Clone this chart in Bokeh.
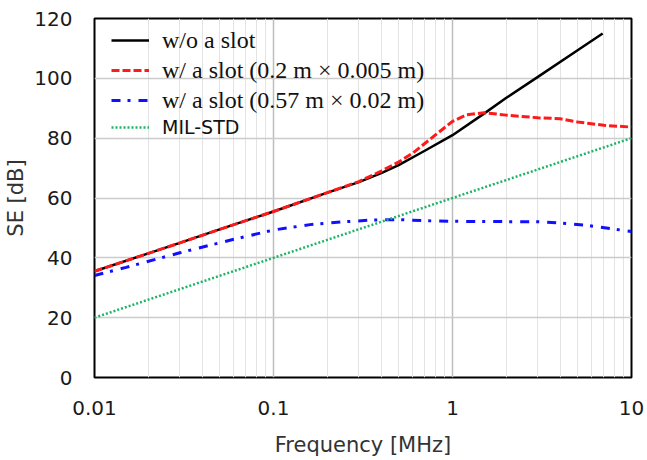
from bokeh.plotting import figure
from bokeh.models import (FixedTicker, CustomJSTickFormatter, Legend, LegendItem,
                          Range1d)
from bokeh.embed import file_html
from bokeh.resources import INLINE

# Shielding effectiveness vs frequency
freq_noslot = [0.01, 0.02, 0.03, 0.05, 0.1, 0.2, 0.3, 0.4, 0.5, 0.7, 1.0, 1.5, 2.0, 3.0, 5.0, 6.9]
se_noslot = [35.5, 41.5, 45.0, 49.5, 55.5, 61.8, 65.3, 68.3, 71.0, 75.8, 81.0, 88.2, 93.5, 100.5,
             109.4, 115.0]

freq_slot_small = [0.01, 0.02, 0.03, 0.05, 0.1, 0.2, 0.3, 0.4, 0.5, 0.6, 0.8, 1.0, 1.2, 1.5,
                   2.0, 3.0, 4.0, 5.0, 7.0, 10.0]
se_slot_small = [35.5, 41.5, 45.0, 49.5, 55.5, 61.8, 65.5, 69.0, 72.0, 75.0, 81.0, 85.6, 87.8, 88.5,
                 87.7, 86.8, 86.5, 85.4, 84.3, 83.7]

freq_slot_large = [0.01, 0.015, 0.03, 0.06, 0.1, 0.16, 0.24, 0.35, 0.5, 0.7, 1.0, 2.0, 3.0, 4.0,
                   5.6, 8.0, 10.0]
se_slot_large = [34.1, 36.8, 41.7, 46.2, 49.3, 51.1, 52.0, 52.6, 52.8, 52.4, 52.2, 52.1, 52.1, 51.6,
                 50.9, 49.6, 48.8]

freq_mil = [0.01, 10.0]
se_mil = [20.0, 80.0]

series_labels = ["w/o a slot", "w/ a slot (0.2 m \u00d7 0.005 m)",
                 "w/ a slot (0.57 m \u00d7 0.02 m)", "MIL-STD"]

x_ticks = [0.01, 0.1, 1, 10]
x_tick_labels = ["0.01", "0.1", "1", "10"]
x_minor = [m * d for d in (0.01, 0.1, 1) for m in range(2, 10)]
y_ticks = [0, 20, 40, 60, 80, 100, 120]

SANS = "DejaVu Sans"
SERIF = "Liberation Serif"

p = figure(width=647, height=460, x_axis_type="log",
           x_range=Range1d(0.01, 10), y_range=Range1d(0, 120),
           output_backend="svg", toolbar_location=None,
           min_border_left=94, min_border_right=16,
           min_border_top=18, min_border_bottom=83)
p.background_fill_color = "white"
p.border_fill_color = "white"
p.outline_line_color = "black"
p.outline_line_width = 2
p.outline_line_alpha = 1

# axes
p.xaxis.ticker = FixedTicker(ticks=x_ticks, minor_ticks=x_minor)
p.xaxis.formatter = CustomJSTickFormatter(
    args=dict(vals=x_ticks, labs=x_tick_labels),
    code="""
    for (let i = 0; i < vals.length; i++) {
        if (Math.abs(Math.log10(tick) - Math.log10(vals[i])) < 1e-6) return labs[i];
    }
    return "";
""")
p.yaxis.ticker = FixedTicker(ticks=y_ticks)

for ax in (p.xaxis[0], p.yaxis[0]):
    ax.axis_line_color = None
    ax.major_tick_line_color = None
    ax.minor_tick_line_color = None
    ax.major_tick_out = 0
    ax.minor_tick_out = 0
    ax.major_label_text_font = SANS
    ax.major_label_text_font_size = "20px"
    ax.major_label_text_color = "#1a1a1a"
    ax.axis_label_text_font = SANS
    ax.axis_label_text_font_size = "21px"
    ax.axis_label_text_font_style = "normal"
    ax.axis_label_text_color = "#333333"

p.xaxis.axis_label = "Frequency [MHz]"
p.yaxis.axis_label = "SE [dB]"
p.xaxis.major_label_standoff = 23
p.xaxis.axis_label_standoff = 15
p.yaxis.major_label_standoff = 22
p.yaxis.axis_label_standoff = 3

# grid
p.xgrid.grid_line_color = "#bdbdbd"
p.xgrid.grid_line_width = 1.5
p.xgrid.minor_grid_line_color = "#e3e3e3"
p.xgrid.minor_grid_line_width = 1
p.ygrid.grid_line_color = "#cccccc"
p.ygrid.grid_line_width = 1.5

# series
r_black = p.line(freq_noslot, se_noslot, line_color="black", line_width=2.5)
r_red = p.line(freq_slot_small, se_slot_small, line_color="#ff1a1a", line_width=3,
               line_dash="8 3")
r_blue = p.line(freq_slot_large, se_slot_large, line_color="#1010ff", line_width=3,
                line_dash="9 7 3 8")
r_green = p.line(freq_mil, se_mil, line_color="#1fb36a", line_width=2.5,
                 line_dash="2 2")

common = dict(padding=0, spacing=0, margin=0, label_height=30, glyph_height=30,
              glyph_width=38, label_standoff=13, background_fill_alpha=0,
              border_line_alpha=0, label_text_color="#111111")

leg_slots = Legend(items=[LegendItem(label=series_labels[0], renderers=[r_black]),
                          LegendItem(label=series_labels[1], renderers=[r_red]),
                          LegendItem(label=series_labels[2], renderers=[r_blue])],
                   location=(17, 262), label_text_font=SERIF,
                   label_text_font_size="24px", **common)
leg_mil = Legend(items=[LegendItem(label=series_labels[3], renderers=[r_green])],
                 location=(17, 235), label_text_font=SANS,
                 label_text_font_size="19px", **common)
p.add_layout(leg_slots, "center")
p.add_layout(leg_mil, "center")

open("out.html", "w").write(file_html(p, INLINE))
